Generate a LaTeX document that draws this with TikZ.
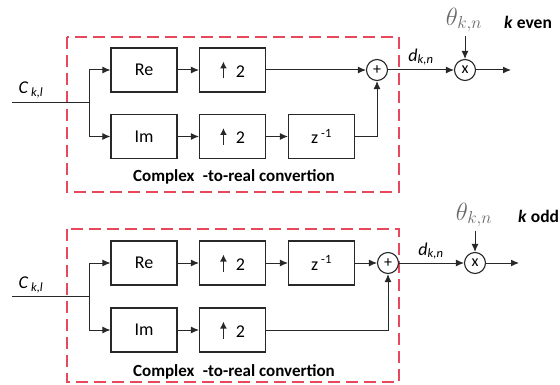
\documentclass[tikz,border=0pt]{standalone}
\usepackage{fontspec}
\setmainfont{Carlito}
\usetikzlibrary{positioning,arrows.meta,calc}

\definecolor{convred}{RGB}{232,72,92}
\definecolor{thetagray}{RGB}{105,105,105}
\definecolor{wire}{RGB}{40,40,40}

% up-sampling arrow with a filled head
\newcommand{\upsmp}{\tikz[baseline=0pt,x=1pt,y=1pt]\draw[wire,line width=1.6pt,-{Latex[length=7pt,width=7pt]}] (0,-1) -- (0,16);}

\tikzset{
  blk/.style={draw=wire,line width=1.1pt,minimum width=66pt,minimum height=44pt,inner sep=0pt,font=\fontsize{18}{20}\selectfont},
  opc/.style={draw=wire,circle,line width=1.1pt,minimum size=21pt,inner sep=0pt,font=\fontsize{16}{17}\selectfont},
  sig/.style={draw=wire,line width=1pt},
  arr/.style={sig,-{Latex[length=8pt,width=7pt]}},
  conv/.style={draw=convred,line width=1.2pt,dash pattern=on 12pt off 6pt},
}

\begin{document}
\begin{tikzpicture}[x=1pt,y=-1pt]
\useasboundingbox (0,0) rectangle (560,385);
% k even (top)
\begin{scope}
\draw[conv] (67,37) rectangle (399,192);
\node[blk] (re) at (144,70) {Re};
\node[blk] (upa) at (232.5,70) {\upsmp\enspace 2};
\node[blk] (im) at (144,136.5) {Im};
\node[blk] (upb) at (232.5,136.5) {\upsmp\enspace 2};
\node[blk] (dly) at (321.5,136.5) {z\,\textsuperscript{-1}};
\node[opc] (sum) at (377,70) {+};
\node[opc] (mul) at (465,70) {x};
\coordinate (in) at (12,103);
\coordinate (br) at (89,103);
\coordinate (out) at (511,70);
\node[font=\fontsize{18}{20}\selectfont\itshape] (c) at (31,90) {C\,\textsubscript{k,l}};
\node[font=\fontsize{17}{19}\selectfont\bfseries] (txt) at (234,177) {Complex\enspace -to-real convertion};
\node[font=\fontsize{18}{20}\selectfont\itshape] (d) at (421,57) {d\textsubscript{k,n}};
\node[text=thetagray,font=\fontsize{26}{28}\selectfont] (th) at (464,20) {$\theta_{k,n}$};
\node[font=\fontsize{17.5}{19}\selectfont\bfseries,anchor=west,inner sep=0pt] (lab) at (504,22) {\textit{k} even};
\draw[sig] (in) -- (br);
\draw[arr] (br) |- (re.west);
\draw[arr] (br) |- (im.west);
\draw[arr] (re) -- (upa);
\draw[arr] (upa) -- (sum);
\draw[arr] (im) -- (upb);
\draw[arr] (upb) -- (dly);
\draw[arr] (dly.east) -| (sum.south);
\draw[arr] (sum) -- (mul);
\draw[arr] (mul) -- (out);
\draw[arr] (th.south -| mul) -- (mul);
\end{scope}
% k odd (bottom)
\begin{scope}[yshift=-193pt]
\draw[conv] (67,36) rectangle (399,189);
\node[blk] (re) at (144,70) {Re};
\node[blk] (upa) at (232.5,70) {\upsmp\enspace 2};
\node[blk] (dly) at (321.5,70) {z\,\textsuperscript{-1}};
\node[blk] (im) at (144,137) {Im};
\node[blk] (upb) at (232.5,137) {\upsmp\enspace 2};
\node[opc] (sum) at (388,70) {+};
\node[opc] (mul) at (475,70) {x};
\coordinate (in) at (12,103);
\coordinate (br) at (89,103);
\coordinate (out) at (519,70);
\node[font=\fontsize{18}{20}\selectfont\itshape] (c) at (31,92) {C\,\textsubscript{k,l}};
\node[font=\fontsize{17}{19}\selectfont\bfseries] (txt) at (234,179) {Complex\enspace -to-real convertion};
\node[font=\fontsize{18}{20}\selectfont\itshape] (d) at (431,58) {d\textsubscript{k,n}};
\node[text=thetagray,font=\fontsize{26}{28}\selectfont] (th) at (474,22) {$\theta_{k,n}$};
\node[font=\fontsize{17.5}{19}\selectfont\bfseries,anchor=west,inner sep=0pt] (lab) at (518,23) {\textit{k} odd};
\draw[sig] (in) -- (br);
\draw[arr] (br) |- (re.west);
\draw[arr] (br) |- (im.west);
\draw[arr] (re) -- (upa);
\draw[arr] (upa) -- (dly);
\draw[arr] (dly) -- (sum);
\draw[arr] (im) -- (upb);
\draw[arr] (upb.east) -| (sum.south);
\draw[arr] (sum) -- (mul);
\draw[arr] (mul) -- (out);
\draw[arr] (th.south -| mul) -- (mul);
\end{scope}
\end{tikzpicture}
\end{document}
